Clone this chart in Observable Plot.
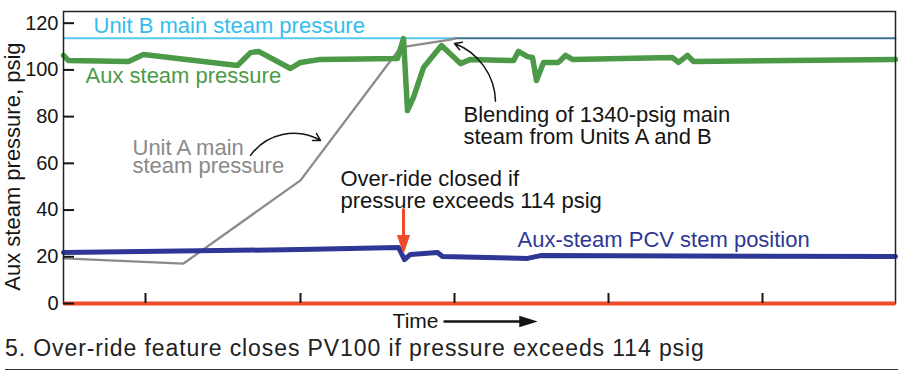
<!DOCTYPE html>
<html>
<head>
<meta charset="utf-8">
<script src="https://cdn.jsdelivr.net/npm/d3@7"></script>
<script src="https://cdn.jsdelivr.net/npm/@observablehq/plot@0.6"></script>
<style>
  body { margin: 0; background: #fff; font-family: "Liberation Sans", Arial, Helvetica, sans-serif; }
  #chart svg { display: block; }
  #caption { font-size: 23px; line-height: 24px; letter-spacing: 0.9px; color: #222; padding-left: 5px; white-space: nowrap; }
  #rule { margin: 9px 0 0 5px; border-top: 1.5px solid #333; }
</style>
</head>
<body>
<div id="chart"></div>
<div id="caption">5. Over-ride feature closes PV100 if pressure exceeds 114 psig</div>
<div id="rule"></div>
<script>
// ---- data (time in arbitrary units, pressure in psig) ----
const yTicks = [0, 20, 40, 60, 80, 100, 120];
const xTicks = [82, 237, 391, 545, 699];

const tUnitB = [0, 392];
const unitB = [113.5, 113.5];

const tBlend = [392, 832];
const blend = [113.5, 113.5];

const tUnitA = [0, 120, 237, 337, 387, 392];
const unitA = [19.3, 17.1, 52.7, 109.6, 113.0, 113.5];

const tAux = [0, 5, 65, 80, 174, 187, 195, 227, 237, 257, 334, 340, 344, 350, 360, 378, 397, 407, 450, 455, 464, 469, 473, 480, 495, 502, 509, 609, 615, 624, 630, 832];
const aux  = [106.2, 104.0, 103.6, 106.6, 101.9, 107.4, 107.9, 100.6, 103.2, 104.5, 104.9, 113.4, 82.6, 88.2, 101.0, 110.4, 102.7, 104.5, 104.0, 107.9, 105.7, 105.3, 95.5, 103.2, 103.2, 106.2, 104.5, 105.3, 103.2, 106.2, 103.6, 104.5];

const tPcv = [0, 237, 335, 341, 347, 374, 379, 464, 477, 832];
const pcv  = [21.8, 23.1, 24.0, 18.8, 21.0, 21.8, 20.1, 19.3, 20.5, 20.1];

const tZero = [0, 832];
const zero = [0, 0];

// ---- styles ----
const C = {
  green: "#4c9a47", navy: "#2e3795", cyan: "#5ac8f0", cyanText: "#34bdec",
  gray: "#8b8b8b", grayText: "#8a8a8a", red: "#ee4b2b", teal: "#3d7391", ink: "#151515"
};
const font = "Liberation Sans, Arial, Helvetica, sans-serif";
const rows = (ts, vs) => ts.map((t, i) => ({t, v: vs[i]}));
const line = (ts, vs, opts) => Plot.line(rows(ts, vs), {x: "t", y: "v", strokeLinejoin: "round", strokeLinecap: "round", ...opts});
const label = (text, x, y, opts) => Plot.text([text], {x, y, text: d => d, fontFamily: font, fontSize: 22, ...opts});

// straight arrow with a filled triangular head (drawn by Plot.vector)
const filledArrow = (headLen, halfWidth) => ({
  draw(ctx, l) {
    ctx.moveTo(0, 0);
    ctx.lineTo(0, -(l - headLen));
    ctx.moveTo(-halfWidth, -(l - headLen));
    ctx.lineTo(0, -l);
    ctx.lineTo(halfWidth, -(l - headLen));
    ctx.closePath();
  }
});

const chart = Plot.plot({
  width: 898,
  height: 336,
  marginLeft: 63,
  marginRight: 3,
  marginTop: 11,
  marginBottom: 33,
  style: {fontFamily: font, fontSize: "20px", color: C.ink, background: "#fff"},
  x: {domain: [0, 832], axis: null},
  y: {domain: [0, 125], axis: null},
  marks: [
    line(tUnitB, unitB, {stroke: C.cyan, strokeWidth: 2}),
    line(tBlend, blend, {stroke: C.teal, strokeWidth: 2}),
    line(tUnitA, unitA, {stroke: C.gray, strokeWidth: 2.3}),
    line(tAux, aux, {stroke: C.green, strokeWidth: 5.5}),
    line(tPcv, pcv, {stroke: C.navy, strokeWidth: 5}),
    Plot.frame({stroke: "#222", strokeWidth: 1.5}),
    line(tZero, zero, {stroke: C.red, strokeWidth: 4, strokeLinecap: "butt"}),
    Plot.axisY(yTicks, {tickSize: -11, tickPadding: 16, strokeWidth: 2, fontSize: 20, label: null, fill: C.ink}),
    Plot.axisX(xTicks, {tickSize: -10, strokeWidth: 2, tickFormat: () => "", label: null}),
    // annotations
    label("Unit B main steam pressure", 30, 119, {textAnchor: "start", fill: C.cyanText}),
    label("Aux steam pressure", 22, 97.2, {textAnchor: "start", fill: C.green}),
    label("Unit A main\nsteam pressure", 69, 62.3, {textAnchor: "start", fill: C.grayText, lineHeight: 0.86}),
    label("Blending of 1340-psig main\nsteam from Units A and B", 400, 75.8, {textAnchor: "start", fill: C.ink, lineHeight: 1.0}),
    label("Over-ride closed if\npressure exceeds 114 psig", 277, 48.8, {textAnchor: "start", fill: C.ink, lineHeight: 1.0}),
    label("Aux-steam PCV stem position", 454, 27.0, {textAnchor: "start", fill: C.navy}),
    label("Aux steam pressure, psig", 0, 58.6, {dx: -51, rotate: -90, fill: C.ink}),
    label("Time", 375, -7.7, {textAnchor: "end", fontSize: 21, fill: C.ink}),
    Plot.arrow([{x1: 187, y1: 63.4, x2: 257, y2: 69.8}], {x1: "x1", y1: "y1", x2: "x2", y2: "y2", bend: 42, stroke: C.ink, strokeWidth: 1.5, headLength: 8}),
    Plot.arrow([{x1: 432, y1: 86.6, x2: 391, y2: 111.3}], {x1: "x1", y1: "y1", x2: "x2", y2: "y2", bend: -34, stroke: C.ink, strokeWidth: 1.5, headLength: 8}),
    Plot.vector([{t: 340, v: 40.2}], {x: "t", y: "v", anchor: "start", length: 40, rotate: 180, shape: filledArrow(13, 4.5), stroke: C.red, fill: C.red, strokeWidth: 3, strokeLinejoin: "miter"}),
    Plot.vector([{t: 381, v: -7.7}], {x: "t", y: "v", anchor: "start", length: 89, rotate: 90, shape: filledArrow(13, 4), stroke: C.ink, fill: C.ink, strokeWidth: 2.5, strokeLinejoin: "miter"})
  ]
});
document.getElementById("chart").append(chart);
</script>
</body>
</html>
